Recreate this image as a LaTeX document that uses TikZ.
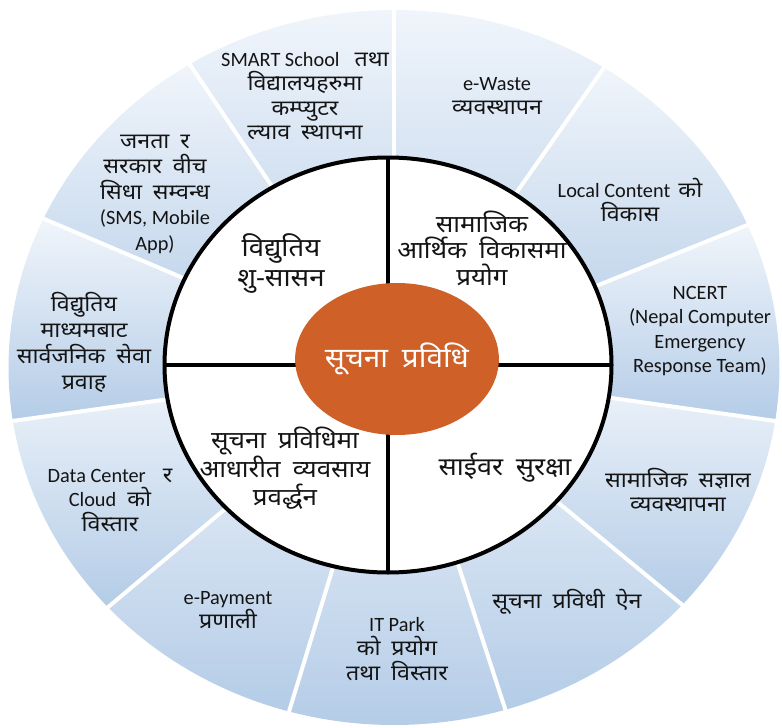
\documentclass[tikz,border=0pt]{standalone}
\usepackage{fontspec}
\setmainfont[Script=Devanagari, FakeStretch=1.08, WordSpace=1.8]{Noto Sans}
\newfontfamily\lat[Scale=0.945]{Carlito}
\usetikzlibrary{shapes.geometric}
\definecolor{segtop}{RGB}{240,245,251}
\definecolor{segbot}{RGB}{180,204,231}
\definecolor{hubfill}{RGB}{207,97,40}
\definecolor{txt}{RGB}{20,20,20}
\begin{document}
\begin{tikzpicture}[x=1pt,y=-1pt,
  seg/.style={top color=segtop, bottom color=segbot, draw=none},
  sepline/.style={white, line width=4pt},
  otext/.style={align=center, inner sep=0pt, text=txt, font=\fontsize{21.5}{24.5}\selectfont},
  itext/.style={align=center, inner sep=0pt, text=txt, font=\fontsize{24.5}{29}\selectfont},
  crossline/.style={black, line width=3.5pt}]
\useasboundingbox (0,0) rectangle (782,728);
\begin{scope}[shift={(394,367.5)}, yscale=0.9274]
  \foreach \a/\b in {90/122, 122/155.4, 155.4/188.6, 188.6/222.1, 222.1/254.2, 254.2/286.8, 286.8/318.4, 318.4/351.4, 351.4/383.5, 23.5/57, 57/90}{
    \shade[seg] (0,0) -- (-\a:385.5) arc[start angle=-\a, end angle=-\b, radius=385.5] -- cycle;
  }
  \foreach \a in {90, 122, 155.4, 188.6, 222.1, 254.2, 286.8, 318.4, 351.4, 23.5, 57}{
    \draw[sepline] (0,0) -- (-\a:392);
  }
\end{scope}
\node[ellipse, draw=black, line width=4pt, fill=white, inner sep=0pt, outer sep=0pt,
      minimum width=447pt, minimum height=415pt] (inner) at (388,365) {};
\draw[crossline] (inner.west) -- (inner.east);
\draw[crossline] (inner.north) -- (inner.south);
\node[ellipse, fill=hubfill, inner sep=0pt, minimum width=165pt, minimum height=152pt,
      text=white, font=\fontsize{27.5}{32}\selectfont] (hub) at (397,359) {सूचना प्रविधि};
% outer ring texts
\node[otext] (t1) at (305,96) {{\lat SMART School}\hspace{15pt}तथा\\विद्यालयहरुमा\\कम्प्युटर\\ल्याव स्थापना};
\node[otext, font=\fontsize{21.5}{25.5}\selectfont] (t2) at (155,194) {जनता र\\सरकार वीच\\सिधा सम्वन्ध\\{\lat (SMS, Mobile}\\{\lat App)}};
\node[otext, font=\fontsize{21.5}{26}\selectfont] (t3) at (84,342) {विद्युतिय\\माध्यमबाट\\सार्वजनिक सेवा\\प्रवाह};
\node[otext] (t4) at (110,500) {{\lat Data Center}\hspace{17pt}र\\{\lat Cloud}\hspace{11pt}को\\विस्तार};
\node[otext] (t5) at (228,610) {{\lat e-Payment}\\प्रणाली};
\node[otext] (t6) at (397,649) {{\lat IT Park}\\को प्रयोग\\तथा विस्तार};
\node[otext] (t7) at (567,602) {सूचना प्रविधी ऐन};
\node[otext] (t8) at (678,490) {सामाजिक सज्ञाल\\व्यवस्थापना};
\node[otext] (t9) at (700,331) {{\lat NCERT}\\{\lat (Nepal Computer}\\{\lat Emergency}\\{\lat Response Team)}};
\node[otext] (t10) at (630,200) {{\lat Local Content}\hspace{8pt}को\\विकास};
\node[otext] (t11) at (497,96) {{\lat e-Waste}\\व्यवस्थापन};
% inner quadrant texts
\node[itext, font=\fontsize{25.5}{30}\selectfont] (q1) at (281,263) {विद्युतिय\\शु-सासन};
\node[itext, font=\fontsize{24}{26.5}\selectfont] (q2) at (482,248) {सामाजिक\\आर्थिक विकासमा\\प्रयोग};
\node[itext, font=\fontsize{24}{27.5}\selectfont] (q3) at (285,468) {सूचना प्रविधिमा\\आधारीत व्यवसाय\\प्रवर्द्धन};
\node[itext, font=\fontsize{25}{30}\selectfont] (q4) at (505,468) {साईवर सुरक्षा};
\end{tikzpicture}
\end{document}
